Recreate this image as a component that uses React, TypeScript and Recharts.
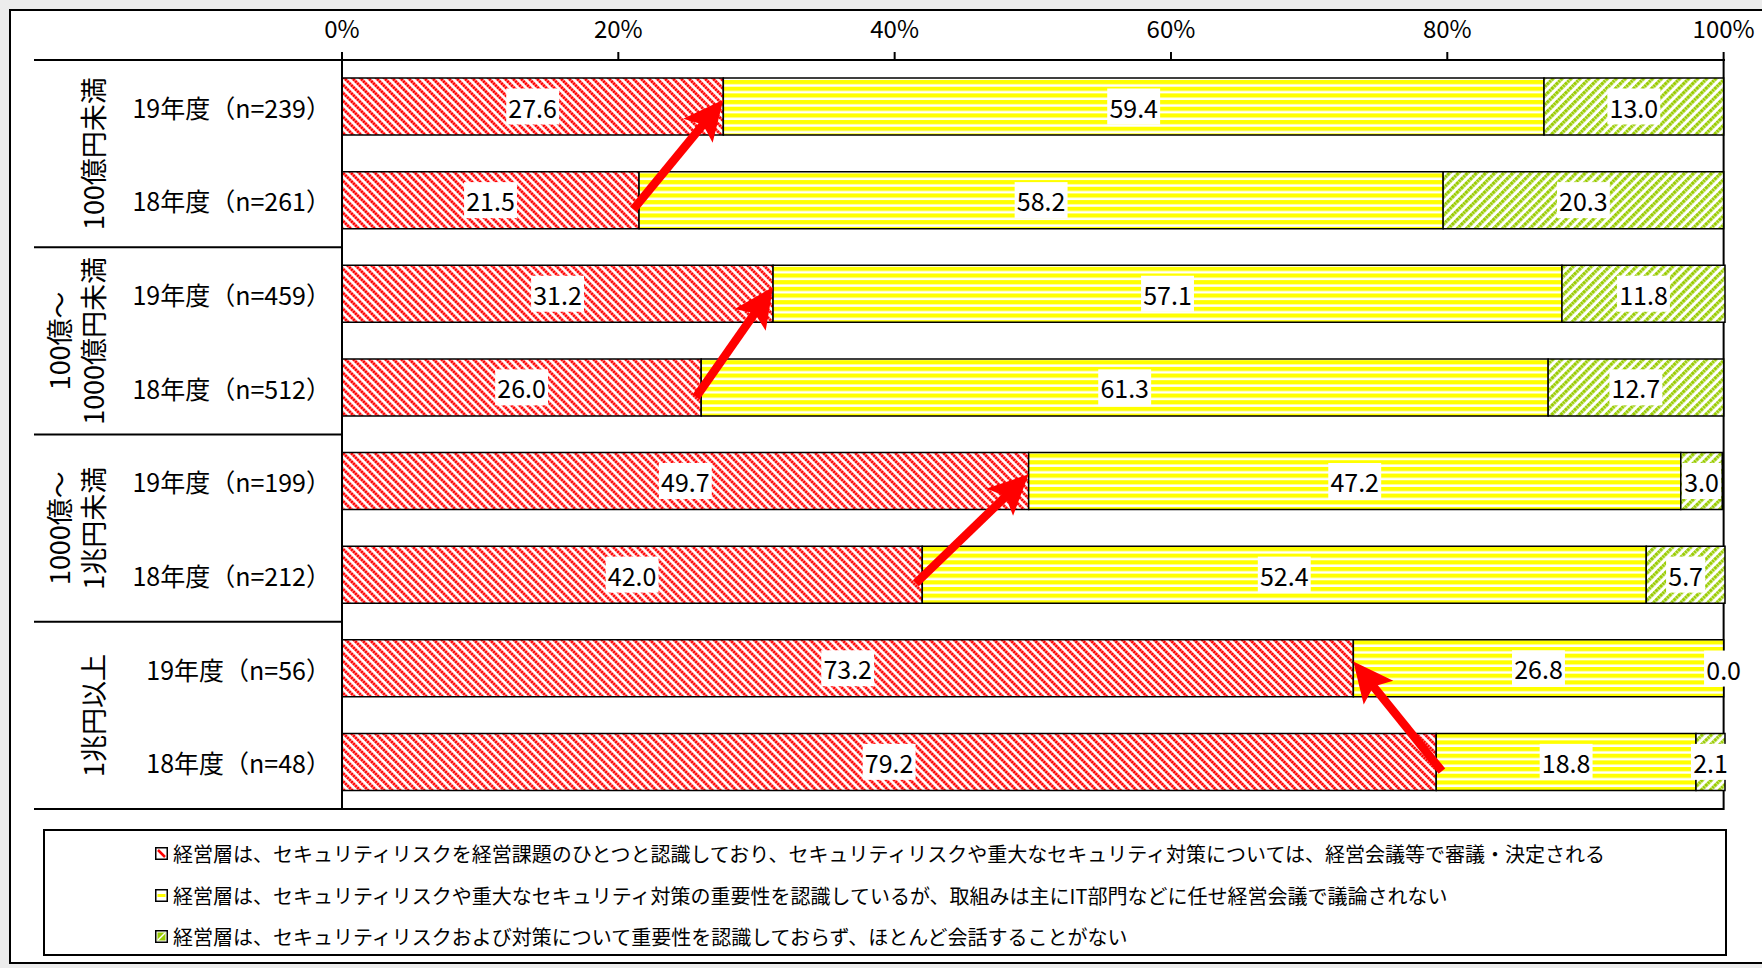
import React from 'react';
import { BarChart, Bar, XAxis, YAxis, LabelList, ReferenceLine, ReferenceArea, ReferenceDot, Legend } from 'recharts';

const FONT = '"Noto Sans CJK JP", "Noto Sans", sans-serif';

const categories = [
  '19年度（n=239）',
  '18年度（n=261）',
  '19年度（n=459）',
  '18年度（n=512）',
  '19年度（n=199）',
  '18年度（n=212）',
  '19年度（n=56）',
  '18年度（n=48）',
];
const discussedAtBoard = [27.6, 21.5, 31.2, 26.0, 49.7, 42.0, 73.2, 79.2];
const delegatedToIT = [59.4, 58.2, 57.1, 61.3, 47.2, 52.4, 26.8, 18.8];
const notRecognized = [13.0, 20.3, 11.8, 12.7, 3.0, 5.7, 0.0, 2.1];
const groupLabels = [
  ['100億円未満'],
  ['100億～', '1000億円未満'],
  ['1000億～', '1兆円未満'],
  ['1兆円以上'],
];
const seriesNames = [
  '経営層は、セキュリティリスクを経営課題のひとつと認識しており、セキュリティリスクや重大なセキュリティ対策については、経営会議等で審議・決定される',
  '経営層は、セキュリティリスクや重大なセキュリティ対策の重要性を認識しているが、取組みは主にIT部門などに任せ経営会議で議論されない',
  '経営層は、セキュリティリスクおよび対策について重要性を認識しておらず、ほとんど会話することがない',
];
const xTicks = [0, 20, 40, 60, 80, 100];

const data = categories.map((label, i) => ({
  label,
  s1: discussedAtBoard[i],
  s2: delegatedToIT[i],
  s3: notRecognized[i],
}));

// arrows: from 18年度 end of first series to 19年度 end, per group
const arrows = groupLabels.map((_, g) => ({
  from: { x: discussedAtBoard[2 * g + 1], y: categories[2 * g + 1] },
  to: { x: discussedAtBoard[2 * g], y: categories[2 * g] },
}));

// zero-valued segments still get a label at their (zero-width) position
const seriesArrays = [discussedAtBoard, delegatedToIT, notRecognized];
const zeroLabels: { x: number; y: string; v: number }[] = [];
categories.forEach((cat, i) => {
  let cum = 0;
  seriesArrays.forEach((arr) => {
    cum += arr[i];
    if (arr[i] === 0) zeroLabels.push({ x: cum, y: cat, v: arr[i] });
  });
});

// layout constants
const CHART_W = 1762;
const CHART_H = 968;
const MARGIN = { top: 10, right: 37, bottom: 159, left: 42 };
const X_AXIS_H = 50;
const Y_AXIS_W = 300;
const PLOT_TOP = MARGIN.top + X_AXIS_H;
const PLOT_BOTTOM = CHART_H - MARGIN.bottom;
const BAND = (PLOT_BOTTOM - PLOT_TOP) / categories.length;
const LEFT_LINE_X = 34;

const CategoryTick = (props: any) => {
  const { x, y, payload } = props;
  const i: number = props.index ?? payload?.index ?? 0;
  const axisX = Number(x);
  const cy = Number(y);
  const els: React.ReactNode[] = [];
  els.push(
    <text key="t" x={axisX - 11} y={cy} textAnchor="end" dominantBaseline="central" fontSize={25} fontFamily={FONT} fill="#000">
      {payload.value}
    </text>
  );
  if (i % 2 === 0) {
    const topY = cy - BAND / 2;
    els.push(<line key="sep" x1={LEFT_LINE_X} x2={axisX} y1={topY} y2={topY} stroke="#000" strokeWidth={2} />);
    const lines = groupLabels[i / 2] || [];
    const gy = cy + BAND / 2;
    const xs = lines.length === 1 ? [axisX - 250] : [axisX - 284, axisX - 250];
    lines.forEach((ln, k) => {
      els.push(
        <text
          key={'g' + k}
          x={xs[k]}
          y={gy}
          transform={`rotate(-90 ${xs[k]} ${gy})`}
          textAnchor="middle"
          dominantBaseline="central"
          fontSize={27}
          fontFamily={FONT}
          fill="#000"
        >
          {ln}
        </text>
      );
    });
  }
  if (i === categories.length - 1) {
    const botY = cy + BAND / 2;
    els.push(<line key="bot" x1={LEFT_LINE_X} x2={axisX} y1={botY} y2={botY} stroke="#000" strokeWidth={2} />);
  }
  return <g>{els}</g>;
};

const valueLabelAt = (cx: number, cy: number, value: number) => {
  const txt = Number(value).toFixed(1);
  const digits = txt.replace('.', '').length;
  const w = digits * 13.8 + 6.5 + 5;
  return (
    <g>
      <rect x={cx - w / 2} y={cy - 18} width={w} height={36} fill="#fff" />
      <text x={cx} y={cy} textAnchor="middle" dominantBaseline="central" fontSize={25} fontFamily={FONT} fill="#000">
        {txt}
      </text>
    </g>
  );
};

const renderValueLabel = (props: any) => {
  const { x, y, width, height, value } = props;
  if (value === undefined || value === null) return null;
  const cx = Number(x) + Number(width) / 2;
  const cy = Number(y) + Number(height) / 2;
  return valueLabelAt(cx, cy, Number(value));
};

const ArrowShape = (p: any) => {
  let x1 = Number(p.x1);
  let y1 = Number(p.y1) + 2;
  const x2 = Number(p.x2);
  const y2 = Number(p.y2) - 7;
  const ang = Math.atan2(y2 - y1, x2 - x1);
  const c = Math.cos(ang);
  const s = Math.sin(ang);
  x1 -= 9 * c;
  y1 -= 9 * s;
  const headLen = 40;
  const half = 19;
  const notch = 32;
  const bx = x2 - headLen * c;
  const by = y2 - headLen * s;
  const nx = -s;
  const ny = c;
  const pts = [
    [x2, y2],
    [bx + nx * half, by + ny * half],
    [x2 - notch * c, y2 - notch * s],
    [bx - nx * half, by - ny * half],
  ]
    .map((q) => q.join(','))
    .join(' ');
  return (
    <g>
      <line x1={x1} y1={y1} x2={x2 - (notch - 2) * c} y2={y2 - (notch - 2) * s} stroke="#FF0000" strokeWidth={8.5} />
      <polygon points={pts} fill="#FF0000" />
    </g>
  );
};

const LegendIcon = ({ k }: { k: number }) => (
  <svg width={13} height={13} style={{ display: 'block' }}>
    <rect x={0.75} y={0.75} width={11.5} height={11.5} fill="#fff" stroke="#000" strokeWidth={1.5} />
    {k === 0 && <line x1={3} y1={3} x2={10} y2={10} stroke="#FF0000" strokeWidth={2.5} />}
    {k === 1 && <rect x={2.5} y={5} width={8} height={3} fill="#FFFF00" />}
    {k === 2 && (
      <g>
        <rect x={2.5} y={2.5} width={8} height={8} fill="#99CC00" />
        <line x1={3} y1={10} x2={10} y2={3} stroke="#fff" strokeWidth={1.5} />
      </g>
    )}
  </svg>
);

const renderLegend = (props: any) => {
  const payload = props.payload || [];
  const order = ['s1', 's2', 's3'];
  const items = order.map((dk) => payload.find((p: any) => p.dataKey === dk)).filter(Boolean);
  return (
    <div
      style={{
        width: 1684,
        height: 127,
        boxSizing: 'border-box',
        border: '2px solid #000',
        background: '#fff',
        paddingTop: 2,
        fontFamily: FONT,
      }}
    >
      {items.map((it: any, k: number) => (
        <div key={k} style={{ display: 'flex', alignItems: 'center', height: 41.5, paddingLeft: 110 }}>
          <LegendIcon k={k} />
          <span style={{ marginLeft: 5, fontSize: 20, color: '#000', whiteSpace: 'nowrap', lineHeight: '41.5px' }}>{it.value}</span>
        </div>
      ))}
    </div>
  );
};

export default function App() {
  return (
    <div style={{ position: 'absolute', left: 0, top: 0, width: CHART_W, height: CHART_H, background: '#ECECEC', overflow: 'hidden' }}>
      <svg width={0} height={0} style={{ position: 'absolute' }}>
        <defs>
          <pattern id="patRed" patternUnits="userSpaceOnUse" width={5.66} height={5.66} patternTransform="rotate(-45)">
            <rect width={5.66} height={5.66} fill="#fff" />
            <line x1={1.5} y1={0} x2={1.5} y2={5.66} stroke="#FF0000" strokeWidth={2.9} strokeDasharray="2.4 0.43" />
          </pattern>
          <pattern id="patYellow" patternUnits="userSpaceOnUse" width={10} height={6.67}>
            <rect width={10} height={6.67} fill="#fff" />
            <rect y={0} width={10} height={4.2} fill="#FFFF00" />
          </pattern>
          <pattern id="patGreen" patternUnits="userSpaceOnUse" width={6.4} height={6.4} patternTransform="rotate(45)">
            <rect width={6.4} height={6.4} fill="#fff" />
            <line x1={1.7} y1={0} x2={1.7} y2={6.4} stroke="#99CC00" strokeWidth={3.3} strokeDasharray="2.7 0.5" />
          </pattern>
        </defs>
      </svg>
      <div
        style={{
          position: 'absolute',
          left: 9,
          top: 9,
          width: 1800,
          height: 955,
          border: '2px solid #000',
          background: '#fff',
          boxSizing: 'border-box',
        }}
      />
      <div style={{ position: 'absolute', left: 0, top: 0 }}>
        <BarChart width={CHART_W} height={CHART_H} data={data} layout="vertical" margin={MARGIN} barSize={57}>
          <XAxis
            type="number"
            orientation="top"
            domain={[0, 100]}
            ticks={xTicks}
            interval={0}
            tickFormatter={(v: number) => `${v}%`}
            height={X_AXIS_H}
            tickSize={8}
            tickMargin={14}
            axisLine={{ stroke: '#000', strokeWidth: 2 }}
            tickLine={{ stroke: '#000', strokeWidth: 2 }}
            tick={{ fontSize: 24, fill: '#000', fontFamily: FONT }}
          />
          <YAxis
            type="category"
            dataKey="label"
            width={Y_AXIS_W}
            interval={0}
            tickSize={0}
            tickMargin={0}
            tickLine={false}
            axisLine={{ stroke: '#000', strokeWidth: 2 }}
            tick={<CategoryTick />}
          />
          <ReferenceArea x1={0} x2={100} fill="none" fillOpacity={0} stroke="#000" strokeWidth={2} ifOverflow="visible" />
          <Bar dataKey="s1" name={seriesNames[0]} stackId="a" fill="url(#patRed)" stroke="#000" strokeWidth={1.5} isAnimationActive={false}>
            <LabelList dataKey="s1" content={renderValueLabel} />
          </Bar>
          <Bar dataKey="s2" name={seriesNames[1]} stackId="a" fill="url(#patYellow)" stroke="#000" strokeWidth={1.5} isAnimationActive={false}>
            <LabelList dataKey="s2" content={renderValueLabel} />
          </Bar>
          <Bar dataKey="s3" name={seriesNames[2]} stackId="a" fill="url(#patGreen)" stroke="#000" strokeWidth={1.5} isAnimationActive={false}>
            <LabelList dataKey="s3" content={renderValueLabel} />
          </Bar>
          {zeroLabels.map((z, i) => (
            <ReferenceDot
              key={'z' + i}
              x={z.x}
              y={z.y}
              r={0}
              ifOverflow="visible"
              shape={(p: any) => valueLabelAt(Number(p.cx), Number(p.cy), z.v)}
            />
          ))}
          {arrows.map((a, i) => (
            <ReferenceLine key={i} segment={[a.from, a.to]} shape={ArrowShape} ifOverflow="visible" />
          ))}
          <Legend
            content={renderLegend}
            layout="horizontal"
            verticalAlign="middle"
            align="center"
            wrapperStyle={{ left: 43, top: 829, width: 1684, height: 127 }}
          />
        </BarChart>
      </div>
    </div>
  );
}
